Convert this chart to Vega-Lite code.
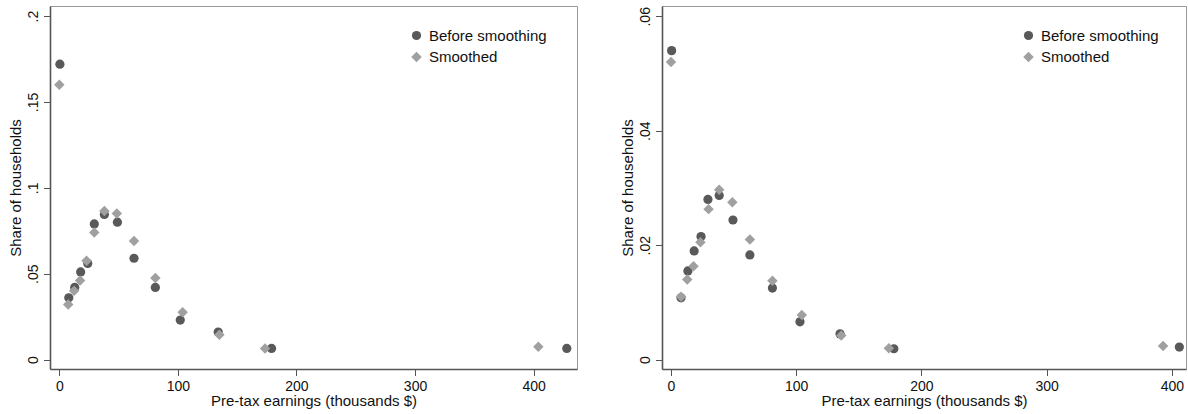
{
  "$schema": "https://vega.github.io/schema/vega-lite/v6.json",
  "datasets": {
    "left": [
      {"earnings": 0.5, "share": 0.172, "series": "Before smoothing"},
      {"earnings": 8, "share": 0.036, "series": "Before smoothing"},
      {"earnings": 13, "share": 0.042, "series": "Before smoothing"},
      {"earnings": 18, "share": 0.051, "series": "Before smoothing"},
      {"earnings": 24, "share": 0.056, "series": "Before smoothing"},
      {"earnings": 29.5, "share": 0.079, "series": "Before smoothing"},
      {"earnings": 38, "share": 0.0845, "series": "Before smoothing"},
      {"earnings": 49, "share": 0.080, "series": "Before smoothing"},
      {"earnings": 63, "share": 0.059, "series": "Before smoothing"},
      {"earnings": 81, "share": 0.042, "series": "Before smoothing"},
      {"earnings": 102, "share": 0.023, "series": "Before smoothing"},
      {"earnings": 134, "share": 0.016, "series": "Before smoothing"},
      {"earnings": 179, "share": 0.0065, "series": "Before smoothing"},
      {"earnings": 428, "share": 0.0065, "series": "Before smoothing"},
      {"earnings": 0, "share": 0.160, "series": "Smoothed"},
      {"earnings": 7.5, "share": 0.032, "series": "Smoothed"},
      {"earnings": 12.5, "share": 0.040, "series": "Smoothed"},
      {"earnings": 17.5, "share": 0.046, "series": "Smoothed"},
      {"earnings": 23, "share": 0.0575, "series": "Smoothed"},
      {"earnings": 29.5, "share": 0.074, "series": "Smoothed"},
      {"earnings": 38, "share": 0.0865, "series": "Smoothed"},
      {"earnings": 48.5, "share": 0.085, "series": "Smoothed"},
      {"earnings": 63, "share": 0.069, "series": "Smoothed"},
      {"earnings": 81, "share": 0.0475, "series": "Smoothed"},
      {"earnings": 104, "share": 0.0275, "series": "Smoothed"},
      {"earnings": 135, "share": 0.0145, "series": "Smoothed"},
      {"earnings": 173.5, "share": 0.0065, "series": "Smoothed"},
      {"earnings": 404, "share": 0.0074, "series": "Smoothed"}
    ],
    "right": [
      {"earnings": 0.5, "share": 0.054, "series": "Before smoothing"},
      {"earnings": 8, "share": 0.0108, "series": "Before smoothing"},
      {"earnings": 13.5, "share": 0.0155, "series": "Before smoothing"},
      {"earnings": 18.5, "share": 0.019, "series": "Before smoothing"},
      {"earnings": 24, "share": 0.0215, "series": "Before smoothing"},
      {"earnings": 29.5, "share": 0.028, "series": "Before smoothing"},
      {"earnings": 38.5, "share": 0.0287, "series": "Before smoothing"},
      {"earnings": 49.5, "share": 0.0244, "series": "Before smoothing"},
      {"earnings": 63, "share": 0.0183, "series": "Before smoothing"},
      {"earnings": 81, "share": 0.0125, "series": "Before smoothing"},
      {"earnings": 103, "share": 0.0066, "series": "Before smoothing"},
      {"earnings": 135, "share": 0.0045, "series": "Before smoothing"},
      {"earnings": 178, "share": 0.0019, "series": "Before smoothing"},
      {"earnings": 406, "share": 0.0022, "series": "Before smoothing"},
      {"earnings": 0, "share": 0.052, "series": "Smoothed"},
      {"earnings": 8, "share": 0.011, "series": "Smoothed"},
      {"earnings": 13, "share": 0.014, "series": "Smoothed"},
      {"earnings": 18, "share": 0.0163, "series": "Smoothed"},
      {"earnings": 23.5, "share": 0.0205, "series": "Smoothed"},
      {"earnings": 30, "share": 0.0263, "series": "Smoothed"},
      {"earnings": 38.5, "share": 0.0297, "series": "Smoothed"},
      {"earnings": 49, "share": 0.0275, "series": "Smoothed"},
      {"earnings": 63, "share": 0.021, "series": "Smoothed"},
      {"earnings": 81, "share": 0.0138, "series": "Smoothed"},
      {"earnings": 104.5, "share": 0.0078, "series": "Smoothed"},
      {"earnings": 136, "share": 0.0042, "series": "Smoothed"},
      {"earnings": 174, "share": 0.002, "series": "Smoothed"},
      {"earnings": 393, "share": 0.0024, "series": "Smoothed"}
    ]
  },
  "padding": {"left": 8, "top": 5, "right": 0, "bottom": 0},
  "spacing": 42,
  "hconcat": [
    {
      "width": 527,
      "height": 363,
      "data": {"name": "left"},
      "mark": {"type": "point", "filled": true, "opacity": 1, "strokeWidth": 0},
      "encoding": {
        "x": {"field": "earnings", "type": "quantitative",
          "scale": {"domain": [-7.85, 436.6], "nice": false, "zero": false},
          "axis": {"values": [0, 100, 200, 300, 400], "format": "d", "title": "Pre-tax earnings (thousands $)"}},
        "y": {"field": "share", "type": "quantitative",
          "scale": {"domain": [-0.0055, 0.2059], "nice": false, "zero": false},
          "axis": {"values": [0, 0.05, 0.1, 0.15, 0.2], "title": "Share of households",
            "labelExpr": "datum.value == 0 ? '0' : slice(format(datum.value, '~g'), 1)"}},
        "color": {"field": "series", "type": "nominal",
          "scale": {"domain": ["Before smoothing", "Smoothed"], "range": ["#595959", "#a0a0a0"]},
          "legend": {"title": null, "orient": "none", "legendX": 359, "legendY": 22}},
        "shape": {"field": "series", "type": "nominal",
          "scale": {"domain": ["Before smoothing", "Smoothed"], "range": ["circle", "diamond"]},
          "legend": {"title": null, "orient": "none", "legendX": 359, "legendY": 22}},
        "size": {"field": "series", "type": "nominal",
          "scale": {"domain": ["Before smoothing", "Smoothed"], "range": [85, 110]},
          "legend": null}
      }
    },
    {
      "width": 524,
      "height": 363,
      "data": {"name": "right"},
      "mark": {"type": "point", "filled": true, "opacity": 1, "strokeWidth": 0},
      "encoding": {
        "x": {"field": "earnings", "type": "quantitative",
          "scale": {"domain": [-7.18, 411.3], "nice": false, "zero": false},
          "axis": {"values": [0, 100, 200, 300, 400], "format": "d", "title": "Pre-tax earnings (thousands $)"}},
        "y": {"field": "share", "type": "quantitative",
          "scale": {"domain": [-0.00164, 0.0618], "nice": false, "zero": false},
          "axis": {"values": [0, 0.02, 0.04, 0.06], "title": "Share of households",
            "labelExpr": "datum.value == 0 ? '0' : slice(format(datum.value, '~g'), 1)"}},
        "color": {"field": "series", "type": "nominal",
          "scale": {"domain": ["Before smoothing", "Smoothed"], "range": ["#595959", "#a0a0a0"]},
          "legend": {"title": null, "orient": "none", "legendX": 359, "legendY": 22}},
        "shape": {"field": "series", "type": "nominal",
          "scale": {"domain": ["Before smoothing", "Smoothed"], "range": ["circle", "diamond"]},
          "legend": {"title": null, "orient": "none", "legendX": 359, "legendY": 22}},
        "size": {"field": "series", "type": "nominal",
          "scale": {"domain": ["Before smoothing", "Smoothed"], "range": [85, 110]},
          "legend": null}
      }
    }
  ],
  "resolve": {
    "scale": {"color": "independent", "shape": "independent", "size": "independent"},
    "legend": {"color": "independent", "shape": "independent"}
  },
  "config": {
    "font": "Liberation Sans",
    "view": {"stroke": "#9a9a9a", "strokeWidth": 1},
    "axis": {
      "grid": false,
      "domainColor": "#555555",
      "domainWidth": 1.6,
      "tickColor": "#555555",
      "tickWidth": 1,
      "tickSize": 6.5,
      "labelFont": "Liberation Sans",
      "labelFontSize": 14,
      "labelColor": "#111111",
      "titleFont": "Liberation Sans",
      "titleFontSize": 15,
      "titleFontWeight": "normal",
      "titleColor": "#111111"
    },
    "axisY": {"labelAngle": 270, "labelAlign": "center", "labelBaseline": "alphabetic", "labelPadding": 6, "titlePadding": 3},
    "axisX": {"labelAngle": 0, "labelPadding": 3.5, "titlePadding": 0},
    "legend": {
      "labelFont": "Liberation Sans",
      "labelFontSize": 15,
      "labelColor": "#111111",
      "symbolSize": 55,
      "symbolStrokeWidth": 0,
      "rowPadding": 5.5,
      "labelOffset": 5,
      "padding": 0
    }
  }
}
